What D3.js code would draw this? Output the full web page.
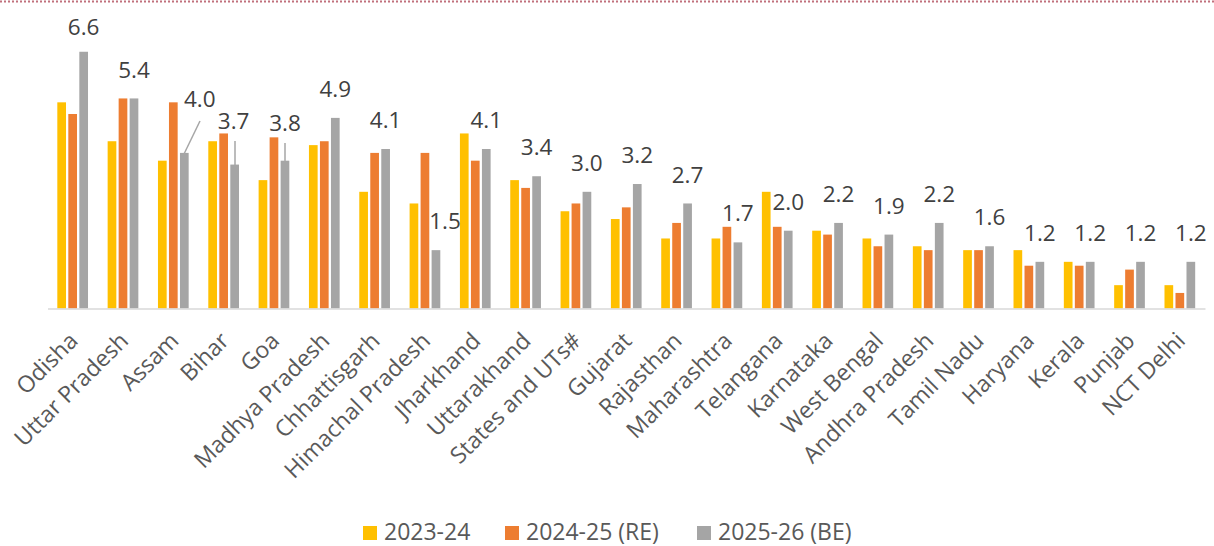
<!DOCTYPE html>
<html>
<head>
<meta charset="utf-8">
<script src="https://cdn.jsdelivr.net/npm/d3@7"></script>
<style>
  body { margin: 0; background: #fff; }
  svg { display: block; font-family: "Open Sans", sans-serif; }
</style>
</head>
<body>
<div id="container"></div>
<script>
const categories = [
  "Odisha", "Uttar Pradesh", "Assam", "Bihar", "Goa", "Madhya Pradesh",
  "Chhattisgarh", "Himachal Pradesh", "Jharkhand", "Uttarakhand",
  "States and UTs#", "Gujarat", "Rajasthan", "Maharashtra", "Telangana",
  "Karnataka", "West Bengal", "Andhra Pradesh", "Tamil Nadu", "Haryana",
  "Kerala", "Punjab", "NCT Delhi"
];
const seriesNames = ["2023-24", "2024-25 (RE)", "2025-26 (BE)"];

const values2324 = [5.3, 4.3, 3.8, 4.3, 3.3, 4.2, 3.0, 2.7, 4.5, 3.3, 2.5, 2.3, 1.8, 1.8, 3.0, 2.0, 1.8, 1.6, 1.5, 1.5, 1.2, 0.6, 0.6];
const values2425 = [5.0, 5.4, 5.3, 4.5, 4.4, 4.3, 4.0, 4.0, 3.8, 3.1, 2.7, 2.6, 2.2, 2.1, 2.1, 1.9, 1.6, 1.5, 1.5, 1.1, 1.1, 1.0, 0.4];
const values2526 = [6.6, 5.4, 4.0, 3.7, 3.8, 4.9, 4.1, 1.5, 4.1, 3.4, 3.0, 3.2, 2.7, 1.7, 2.0, 2.2, 1.9, 2.2, 1.6, 1.2, 1.2, 1.2, 1.2];

const width = 1214;
const height = 546;
const marginLeft = 47.5;
const marginRight = 9;
const baseline = 308.5;
const yTop = 36.2;

const colors = ["#FFC000", "#ED7D31", "#A5A5A5"];
const seriesValues = [values2324, values2425, values2526];

const data = categories.map((c, i) => ({
  category: c,
  values: seriesValues.map((s, k) => ({ key: seriesNames[k], k, value: s[i] }))
}));

const x0 = d3.scaleBand()
  .domain(categories)
  .range([marginLeft, width - marginRight])
  .paddingInner(0.39)
  .paddingOuter(0.195);

const x1 = d3.scaleBand()
  .domain(seriesNames)
  .range([0, x0.bandwidth()])
  .paddingInner(0.21);

const y = d3.scaleLinear()
  .domain([0, 7])
  .range([baseline, yTop]);

const svg = d3.create("svg")
  .attr("width", width)
  .attr("height", height);

// dotted frame edge at the top
svg.append("line")
  .attr("x1", 0).attr("x2", width)
  .attr("y1", 1.5).attr("y2", 1.5)
  .attr("stroke", "#c0707c")
  .attr("stroke-width", 2)
  .attr("stroke-dasharray", "2,2");

const groups = svg.append("g")
  .selectAll("g")
  .data(data)
  .join("g")
  .attr("transform", d => `translate(${x0(d.category)},0)`);

groups.selectAll("rect")
  .data(d => d.values)
  .join("rect")
  .attr("x", d => x1(d.key))
  .attr("y", d => y(d.value))
  .attr("width", x1.bandwidth())
  .attr("height", d => y(0) - y(d.value))
  .attr("fill", d => colors[d.k]);

// x axis
const xAxis = svg.append("g")
  .attr("transform", `translate(0,${baseline})`)
  .call(d3.axisBottom(x0).tickSize(0).tickPadding(0));

xAxis.select(".domain")
  .attr("stroke", "#d9d9d9")
  .attr("stroke-width", 1.5);

xAxis.selectAll(".tick text")
  .attr("font-size", 23)
  .attr("font-family", "Open Sans")
  .attr("fill", "#595959")
  .attr("text-anchor", "end")
  .attr("dy", "0.35em")
  .attr("transform", "translate(1,28) rotate(-45)");

// data labels on 2025-26 (BE), a few moved off their bar like the source
const labelNudge = {
  "Odisha": [0, 4],
  "Assam": [15.5, -25],
  "Bihar": [-1, -15],
  "Goa": [0, -9],
  "Himachal Pradesh": [9, 0]
};
const leaderLines = {
  "Assam": [[200, 121], [184, 154]],
  "Bihar": [[235, 141], [235, 165]],
  "Goa": [[285, 143], [285, 161]]
};

const last = seriesNames[2];
svg.append("g")
  .selectAll("text")
  .data(data)
  .join("text")
  .attr("x", d => x0(d.category) + x1(last) + x1.bandwidth() / 2 + (labelNudge[d.category] || [0, 0])[0])
  .attr("y", d => y(d.values[2].value) - 29 + (labelNudge[d.category] || [0, 0])[1])
  .attr("dy", "0.36em")
  .attr("text-anchor", "middle")
  .attr("font-size", 22.5)
  .attr("fill", "#404040")
  .text(d => d3.format(".1f")(d.values[2].value));

svg.append("g")
  .selectAll("line")
  .data(Object.values(leaderLines))
  .join("line")
  .attr("x1", d => d[0][0]).attr("y1", d => d[0][1])
  .attr("x2", d => d[1][0]).attr("y2", d => d[1][1])
  .attr("stroke", "#a6a6a6")
  .attr("stroke-width", 1.5);

// legend
const legendItems = [
  { name: seriesNames[0], sx: 363, tx: 384 },
  { name: seriesNames[1], sx: 505, tx: 526 },
  { name: seriesNames[2], sx: 697, tx: 718 }
];
const legend = svg.append("g");
legend.selectAll("rect")
  .data(legendItems)
  .join("rect")
  .attr("x", d => d.sx)
  .attr("y", 526)
  .attr("width", 14)
  .attr("height", 14)
  .attr("fill", (d, i) => colors[i]);
legend.selectAll("text")
  .data(legendItems)
  .join("text")
  .attr("x", d => d.tx)
  .attr("y", 532)
  .attr("dy", "0.36em")
  .attr("font-size", 23)
  .attr("fill", "#595959")
  .text(d => d.name);

d3.select("#container").append(() => svg.node());
</script>
</body>
</html>
